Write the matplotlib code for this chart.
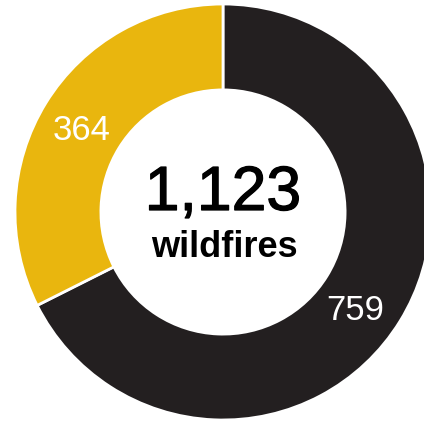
import matplotlib
matplotlib.use("Agg")
import matplotlib.pyplot as plt
import matplotlib.patheffects as pe

# wildfire counts per group
values = [759, 364]
labels = ["759", "364"]
colors = ["#231f20", "#e9b60e"]
total = sum(values)

W, H = 424, 426
fig = plt.figure(figsize=(W / 100, H / 100), dpi=100)
ax = fig.add_axes([0, 0, 1, 1])

cx, cy, r = 223, H - 212, 208
wedges, _ = ax.pie(values, colors=colors, startangle=90, counterclock=False,
                   center=(cx, cy), radius=r, frame=True,
                   wedgeprops=dict(width=r * 0.413, edgecolor="white", linewidth=2))
ax.set_xlim(0, W)
ax.set_ylim(0, H)
ax.set_aspect("equal")
ax.axis("off")

font = "Liberation Sans"
ax.text(355, H - 311, labels[0], color="white", fontsize=25, family=font,
        ha="center", va="center")
ax.text(82, H - 131, labels[1], color="white", fontsize=25, family=font,
        ha="center", va="center")

# total in the hole, a bit heavier than the regular face
ax.text(223, H - 210, f"{total:,}", color="black", fontsize=45, family=font,
        ha="center", va="baseline",
        path_effects=[pe.withStroke(linewidth=0.9, foreground="black")])
ax.text(224, H - 257, "wildfires", color="black", fontsize=26, family=font,
        fontweight="bold", ha="center", va="baseline")

fig.savefig("out.png", dpi=100)
